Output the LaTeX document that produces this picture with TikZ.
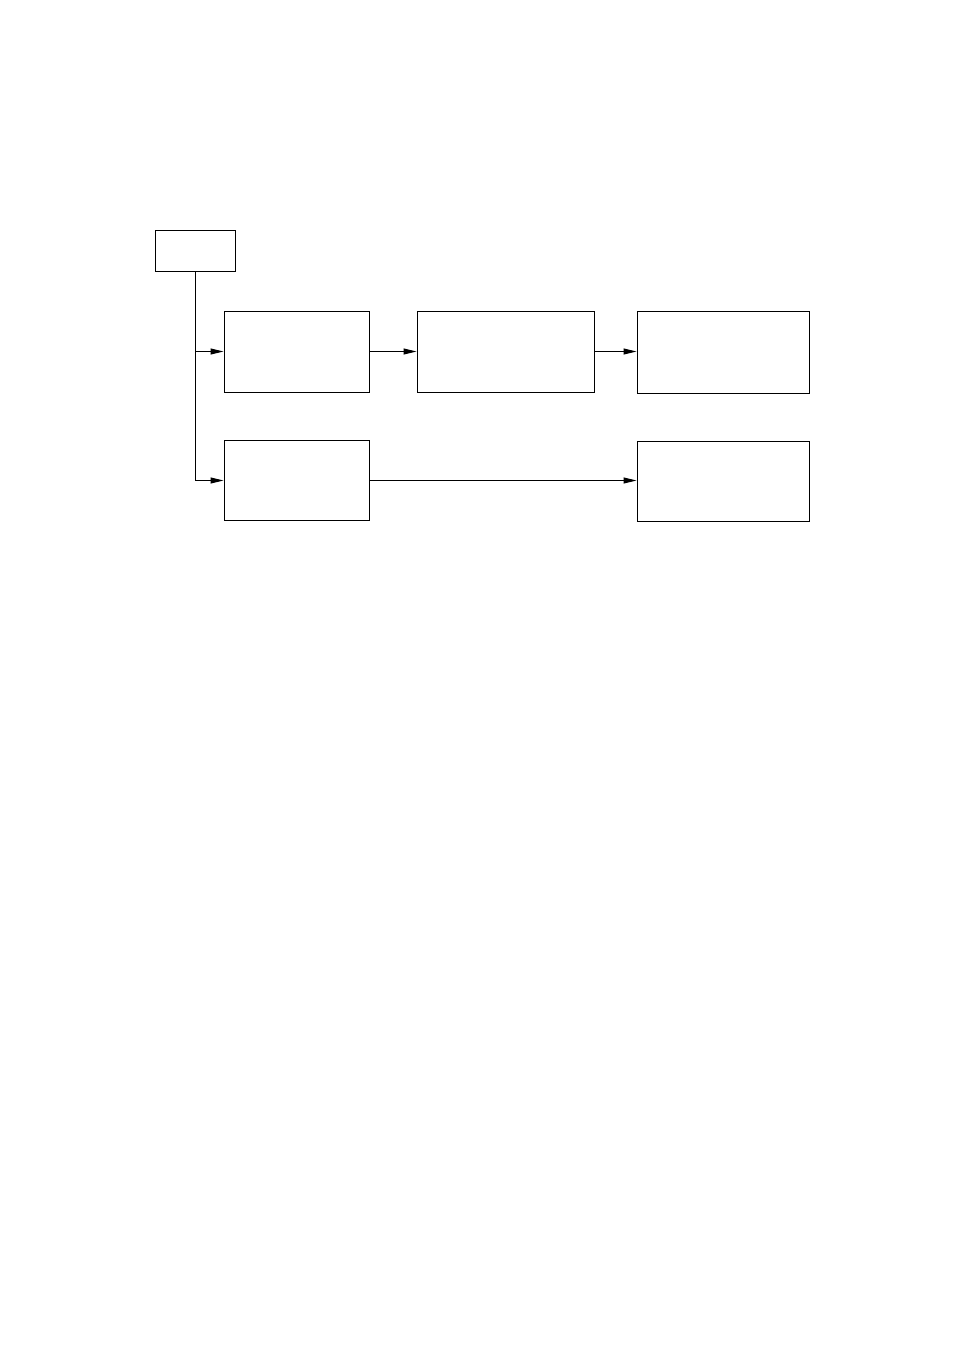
\documentclass[tikz,border=0pt]{standalone}
\usetikzlibrary{arrows.meta}
\begin{document}
\begin{tikzpicture}[x=1pt,y=-1pt,
  box/.style={draw,line width=1pt,inner sep=0pt,rectangle},
  conn/.style={line width=1pt},
  arr/.style={conn,-{Triangle[length=13pt,width=6pt]}}]
\useasboundingbox (0,0) rectangle (954,1351);
\node[box,minimum width=80pt,minimum height=41pt] (top) at (195,250.5) {};
\node[box,minimum width=145pt,minimum height=81pt] (A) at (296.5,351.5) {};
\node[box,minimum width=177pt,minimum height=81pt] (B) at (505.5,351.5) {};
\node[box,minimum width=172pt,minimum height=82pt] (C) at (723,352) {};
\node[box,minimum width=145pt,minimum height=80pt] (D) at (296.5,480.5) {};
\node[box,minimum width=172pt,minimum height=80pt] (E) at (723,481) {};
\coordinate (j1) at (195,351.5);
\draw[arr] (top.south) |- (D.west);
\draw[arr] (j1) -- (A.west);
\draw[arr] (A.east) -- (B.west);
\draw[arr] (B.east) -- (B.east -| C.west);
\draw[arr] (D.east) -- (D.east -| E.west);
\end{tikzpicture}
\end{document}
